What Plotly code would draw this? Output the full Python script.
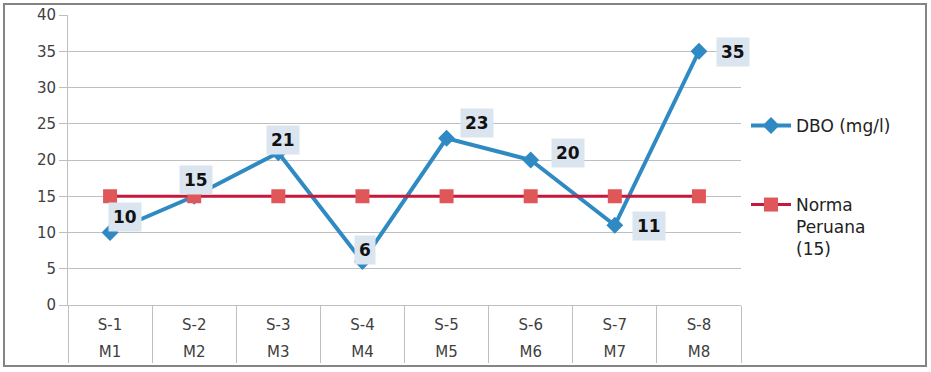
import plotly.graph_objects as go

outer = ["M1", "M2", "M3", "M4", "M5", "M6", "M7", "M8"]
inner = ["S-1", "S-2", "S-3", "S-4", "S-5", "S-6", "S-7", "S-8"]
dbo = [10, 15, 21, 6, 23, 20, 11, 35]
norma = [15, 15, 15, 15, 15, 15, 15, 15]
y_ticks = [0, 5, 10, 15, 20, 25, 30, 35, 40]

# label offsets (px) for data-label boxes
label_dx = [15, 2, 5, 3, 30, 37, 34, 34]
label_dy = [16, 16, 13, 12, 15, 7, -1, -1]

W, H = 931, 372
L, R, T, B = 68, 190, 15, 31
pw, ph = W - L - R, H - T - B
PLOT_BOTTOM = 305  # px of y=0
ydom0 = (H - B - PLOT_BOTTOM) / ph

FONT = "DejaVu Sans"

fig = go.Figure()
fig.add_trace(go.Scatter(
    x=inner, y=dbo, name="DBO (mg/l)", mode="lines+markers",
    line=dict(color="#2f8ac4", width=4),
    marker=dict(symbol="diamond", size=13, color="#2f8ac4"),
    legend="legend",
))
fig.add_trace(go.Scatter(
    x=inner, y=norma, name="Norma<br>Peruana<br>(15)", mode="lines+markers",
    line=dict(color="#c8173a", width=3),
    marker=dict(symbol="square", size=14, color="#e0575a"),
    legend="legend2",
))
# outer category level on a second x axis
fig.add_trace(go.Scatter(
    x=outer, y=[None] * len(outer), xaxis="x2", yaxis="y",
    showlegend=False, hoverinfo="skip", mode="markers",
))

for i, v in enumerate(dbo):
    fig.add_annotation(
        x=inner[i], y=v, xref="x", yref="y", text=f"<b>{v}</b>", showarrow=False,
        xshift=label_dx[i], yshift=label_dy[i],
        bgcolor="#dbe5f0", borderpad=4,
        font=dict(family=FONT, size=17, color="#111111"),
    )

def px2paper_x(px):
    return (px - L) / pw

def px2paper_y(py):
    return (H - B - py) / ph

fig.add_shape(type="rect", xref="paper", yref="paper",
              x0=px2paper_x(4), x1=px2paper_x(926), y0=px2paper_y(366), y1=px2paper_y(4),
              line=dict(color="#848484", width=2), layer="below")

fig.update_layout(
    width=W, height=H,
    margin=dict(l=L, r=R, t=T, b=B, autoexpand=False),
    paper_bgcolor="white", plot_bgcolor="white",
    font=dict(family=FONT, size=14, color="#404040"),
    legend=dict(x=px2paper_x(746), y=px2paper_y(126), xanchor="left", yanchor="middle",
                itemwidth=40,
                font=dict(family=FONT, size=17, color="#222222"), bgcolor="rgba(0,0,0,0)"),
    legend2=dict(x=px2paper_x(746), y=px2paper_y(187), xanchor="left", yanchor="top",
                 valign="top", itemwidth=40,
                 font=dict(family=FONT, size=17, color="#222222"), bgcolor="rgba(0,0,0,0)"),
    showlegend=True,
    xaxis=dict(
        type="category", categoryarray=inner, categoryorder="array",
        range=[-0.5, 7.5], anchor="y",
        showline=True, linecolor="#bfbfbf", linewidth=1,
        ticks="outside", tickson="boundaries", ticklen=57, tickcolor="#bfbfbf", tickwidth=1,
        ticklabelstandoff=6,
        tickfont=dict(family=FONT, size=15, color="#404040"),
        showgrid=False, zeroline=False,
    ),
    xaxis2=dict(
        type="category", categoryarray=outer, categoryorder="array",
        range=[-0.5, 7.5], anchor="free", position=0, overlaying="x", side="bottom",
        showline=False, ticks="", showgrid=False, zeroline=False,
        tickfont=dict(family=FONT, size=15, color="#404040"),
    ),
    yaxis=dict(
        domain=[ydom0, 1],
        range=[0, 40], tickvals=y_ticks, showgrid=True, gridcolor="#bfbfbf", gridwidth=1,
        showline=True, linecolor="#bfbfbf", ticks="outside", ticklen=8, tickcolor="#bfbfbf",
        tickfont=dict(family=FONT, size=15, color="#404040"), zeroline=False,
    ),
)

fig.write_html("out.html", config={"displayModeBar": False},
               post_script="document.body.style.margin='0';document.body.style.overflow='hidden';")
